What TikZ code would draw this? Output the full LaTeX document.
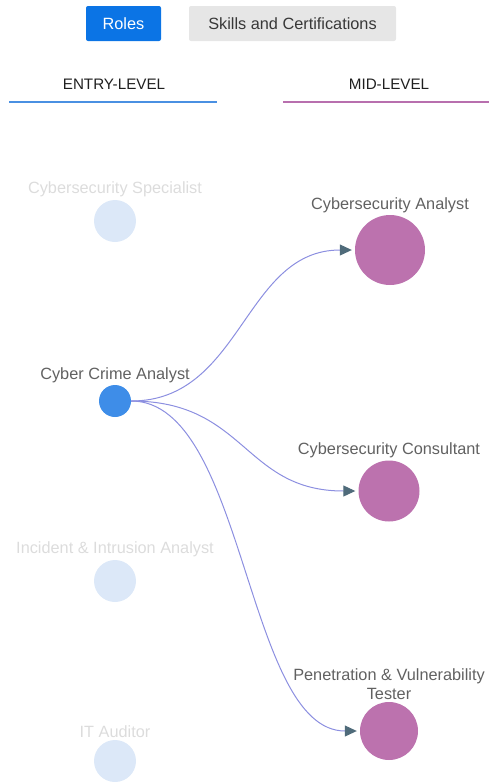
\documentclass[tikz,border=0pt]{standalone}
\usepackage{fontspec}
\setmainfont{Liberation Sans}
\usetikzlibrary{arrows.meta,positioning}
\definecolor{roleblue}{HTML}{0B74E5}
\definecolor{tabgray}{HTML}{E6E6E6}
\definecolor{entryblue}{HTML}{4A90E2}
\definecolor{midpurple}{HTML}{B86FAE}
\definecolor{fadecirc}{HTML}{DCE8F8}
\definecolor{fadetext}{HTML}{DCDCDC}
\definecolor{activeblue}{HTML}{3E8DE8}
\definecolor{midcirc}{HTML}{BC72AE}
\definecolor{linkcol}{HTML}{8C8FE0}
\definecolor{tipcol}{HTML}{4F6B7A}

\begin{document}
\begin{tikzpicture}[x=1pt,y=-1pt,font=\fontsize{16.3}{19}\selectfont,
                    >={Triangle[length=12pt,width=11pt,color=tipcol]},
                    shorten >=3pt]
  \tikzstyle{tab}=[rectangle,rounded corners=2pt,minimum height=35pt,inner sep=0pt]
  \tikzstyle{head}=[text=black!88,font=\fontsize{15.2}{18}\selectfont]
  \tikzstyle{role}=[circle,inner sep=0pt]
  \tikzstyle{faded}=[role,fill=fadecirc,minimum size=42pt,
                     label={[text=fadetext,label distance=-1pt]above:#1}]
  \tikzstyle{mid}=[role,fill=midcirc,
                   label={[text=black!62,label distance=-1.5pt,align=center]above:#1}]
  \tikzstyle{link}=[draw=linkcol,line width=1pt,out=0,in=180]

  \useasboundingbox (0,0) rectangle (492,782);

  % tabs
  \node[tab,fill=roleblue,text=white,minimum width=75pt] (roles) at (123.5,23.5) {Roles};
  \node[tab,fill=tabgray,text=black!78,minimum width=207pt] (skills) at (292.5,23.5) {Skills and Certifications};

  % column headers
  \node[head] (entry) at (114,84) {ENTRY-LEVEL};
  \node[head] (midlvl) at (389,84) {MID-LEVEL};
  \draw[entryblue,line width=2.5pt] (9,102) -- (220,102);
  \draw[midpurple,line width=2.5pt] (283,102) -- (492,102);

  % entry-level roles
  \node[faded=Cybersecurity Specialist] (spec) at (115,221) {};
  \node[role,fill=activeblue,minimum size=32pt,
        label={[text=black!62,label distance=-1.5pt]above:Cyber Crime Analyst}] (crime) at (115,401) {};
  \node[faded=Incident \& Intrusion Analyst] (incident) at (115,581) {};
  \node[faded=IT Auditor] (auditor) at (115,761) {};

  % mid-level roles
  \node[mid=Cybersecurity Analyst,minimum size=70pt] (analyst) at (390,250) {};
  \node[mid=Cybersecurity Consultant,minimum size=61pt] (consult) at (389,491) {};
  \node[mid={Penetration \& Vulnerability\\Tester},minimum size=58pt] (pentest) at (389,731) {};

  \path[->]
  (crime) edge [link,looseness=1.05] (analyst)
  (crime) edge [link,looseness=1.2]  (consult)
  (crime) edge [link,looseness=0.73] (pentest)
  ;

\end{tikzpicture}
\end{document}
